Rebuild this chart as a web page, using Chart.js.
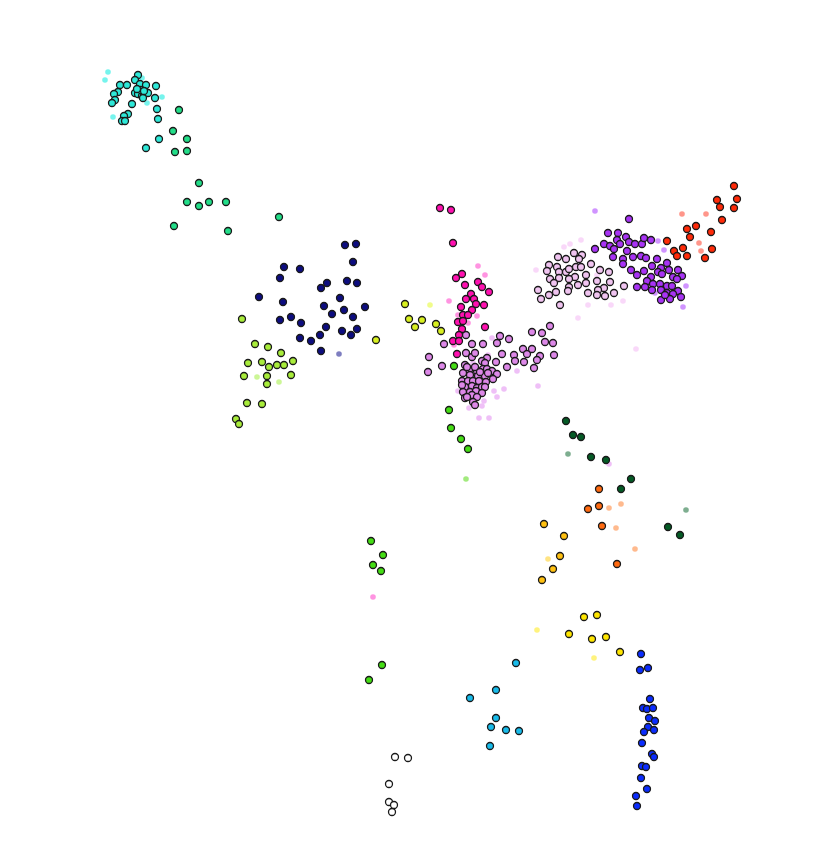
<!DOCTYPE html>
<html>
<head>
<meta charset="utf-8">
<script src="https://cdn.jsdelivr.net/npm/chart.js@4"></script>
<style>
  html, body { margin:0; padding:0; background:#fff; }
  #wrap { width:837px; height:864px; }
</style>
</head>
<body>
<div id="wrap"><canvas id="chart" width="837" height="864"></canvas></div>
<script>
// point positions (x right, y down)
var cyanPts = [[138,75],[135,80],[140,84],[146,85],[156,86],[120,85],[127,85],[118,92],[114,94],[115,100],[112,103],[135,93],[138,94],[142,96],[144,94],[148,93],[141,90],[143,98],[155,98],[132,104],[157,109],[158,119],[128,114],[124,116],[122,121],[125,121],[159,139],[146,148],[137,89],[144,91]];
var cyanFaint = [[108,72],[105,80],[162,97],[147,103],[113,117],[142,78]];
var springPts = [[179,110],[173,131],[187,139],[175,152],[187,151],[199,183],[187,202],[199,206],[209,202],[226,202],[174,226],[228,231],[279,217]];
var navyPts = [[345,245],[356,244],[353,262],[284,267],[300,269],[280,278],[347,281],[357,283],[327,283],[321,288],[259,297],[283,302],[340,298],[324,306],[344,310],[365,307],[332,314],[353,317],[280,320],[291,317],[301,323],[326,327],[320,335],[342,331],[357,329],[351,335],[300,338],[311,341],[321,351]];
var navyFaint = [[339,354]];
var limePts = [[242,319],[255,344],[268,347],[281,353],[248,363],[262,362],[269,367],[277,365],[284,365],[293,361],[244,376],[267,376],[267,384],[291,375],[247,403],[262,404],[236,419],[239,424]];
var limeFaint = [[257,377],[279,382]];
var chartreusePts = [[376,340],[405,304],[409,319],[415,327],[422,320],[436,324],[441,331]];
var chartreuseFaint = [[430,305]];
var magentaPts = [[440,208],[451,210],[453,243],[462,274],[456,278],[465,285],[478,282],[482,287],[489,292],[471,294],[466,299],[474,299],[476,304],[484,305],[461,307],[472,310],[463,315],[468,315],[458,322],[463,321],[485,327],[462,329],[459,335],[453,341],[459,341],[457,354]];
var magentaFaint = [[478,266],[485,275],[449,301],[477,316],[468,323],[458,315],[454,345],[373,597]];
var orchidPts = [[444,344],[472,344],[483,344],[497,343],[466,335],[500,336],[509,339],[532,332],[542,333],[550,326],[545,342],[553,343],
  [429,357],[442,366],[428,372],[466,353],[472,357],[475,353],[502,354],[514,355],[523,349],[527,354],[532,349],[540,356],[554,355],[537,360],[524,362],[515,361],[507,367],[496,362],[534,368],[487,358],[482,361],[485,363],[465,365],
  [469,370],[477,371],[483,369],[487,369],[492,371],[497,374],[463,373],[470,375],[478,376],[485,376],[493,379],[462,381],[468,381],[473,381],[479,381],[486,382],[465,387],[472,386],[477,388],[482,387],[485,387],[463,392],[470,392],[476,391],[482,393],[465,398],[472,395],[477,397],[473,402],[475,405],[467,397],[462,385],[488,373],[475,367],[467,367],[480,372]];
var orchidFaint = [[492,338],[517,371],[538,386],[504,389],[494,391],[497,397],[458,391],[484,401],[482,406],[469,408],[479,418],[489,418],[473,363],[463,372],[488,355],[609,464]];
var blushPts = [[558,257],[566,259],[574,253],[582,255],[579,259],[591,264],[549,265],[557,267],[547,271],[559,272],[566,272],[576,267],[581,267],[569,269],[600,270],[609,272],[586,275],[575,277],[550,279],[559,278],[569,279],[597,281],[610,282],[554,283],[578,285],[586,283],[569,287],[568,291],[604,288],[598,290],[614,293],[538,290],[556,292],[549,295],[588,293],[597,295],[605,296],[624,286],[541,299],[560,305]];
var blushFaint = [[564,247],[570,244],[581,240],[536,270],[597,275],[588,305],[611,305],[623,301],[578,318],[636,349]];
var purplePts = [[608,233],[618,233],[626,237],[617,240],[629,242],[635,244],[604,244],[610,246],[620,244],[595,249],[614,249],[627,251],[613,257],[623,259],[633,257],[623,264],[631,270],[637,275],[637,287],[629,219],[642,244],[644,238],[651,240],[641,256],[646,258],[657,259],[667,263],[652,266],[661,268],[669,270],[678,270],[644,271],[658,272],[662,274],[651,277],[673,277],[682,276],[677,279],[647,281],[653,284],[660,284],[645,287],[667,286],[672,286],[652,290],[661,290],[667,293],[678,291],[673,294],[681,297],[670,299],[661,300],[665,295]];
var purpleFaint = [[595,211],[658,241],[664,250],[686,286],[683,307],[655,293]];
var redPts = [[734,186],[717,200],[737,199],[720,207],[734,208],[722,220],[696,226],[687,229],[711,232],[690,237],[667,241],[683,248],[674,251],[677,256],[687,256],[712,249],[705,258]];
var redFaint = [[682,214],[706,214],[699,243],[701,251]];
var forestPts = [[566,421],[573,435],[581,437],[591,457],[606,460],[631,479],[621,489],[668,527],[680,535]];
var forestFaint = [[568,454],[686,510]];
var orangePts = [[599,489],[599,506],[588,509],[602,526],[617,564]];
var orangeFaint = [[609,508],[621,504],[616,528],[635,549]];
var goldPts = [[544,524],[564,536],[560,556],[553,569],[542,580]];
var goldFaint = [[548,559]];
var yellowPts = [[584,617],[597,615],[569,634],[592,639],[606,637],[620,652]];
var yellowFaint = [[537,630],[594,658]];
var greenPts = [[454,366],[449,410],[451,428],[461,439],[468,449],[371,541],[383,555],[373,565],[381,571],[382,665],[369,680]];
var greenFaint = [[466,479]];
var skyPts = [[516,663],[496,690],[470,698],[496,718],[491,727],[506,730],[519,731],[490,746]];
var bluePts = [[641,654],[640,670],[648,668],[650,699],[643,708],[647,709],[653,708],[649,718],[655,721],[648,727],[644,732],[654,730],[642,743],[652,754],[654,757],[642,766],[646,767],[641,778],[647,789],[636,796],[637,806]];
var whitePts = [[395,757],[408,758],[389,784],[389,802],[394,805],[392,812]];

function pts(arr) {
  return arr.map(function(p) { return { x:p[0], y:p[1] }; });
}
function solid(data, color) {
  return { data:pts(data), backgroundColor:color, borderColor:'#1a1a1a', borderWidth:1.3, pointRadius:3.5, order:0 };
}
function faint(data, color) {
  return { data:pts(data), backgroundColor:color, borderWidth:0, pointRadius:2.8, order:1 };
}

var datasets = [
  faint(cyanFaint, 'rgba(60,240,230,0.7)'),
  faint(navyFaint, 'rgba(40,40,150,0.6)'),
  faint(limeFaint, 'rgba(170,240,80,0.6)'),
  faint(chartreuseFaint, 'rgba(230,250,60,0.6)'),
  faint(magentaFaint, 'rgba(255,60,200,0.55)'),
  faint(orchidFaint, 'rgba(225,140,240,0.55)'),
  faint(blushFaint, 'rgba(245,190,245,0.6)'),
  faint(purpleFaint, 'rgba(170,60,255,0.55)'),
  faint(redFaint, 'rgba(255,80,60,0.6)'),
  faint(forestFaint, 'rgba(40,120,70,0.6)'),
  faint(orangeFaint, 'rgba(255,130,50,0.55)'),
  faint(goldFaint, 'rgba(255,210,50,0.6)'),
  faint(yellowFaint, 'rgba(255,235,40,0.6)'),
  faint(greenFaint, 'rgba(100,220,40,0.6)'),
  solid(cyanPts, '#2ee8d8'),
  solid(springPts, '#22dd88'),
  solid(navyPts, '#0d0d80'),
  solid(limePts, '#a8ec3a'),
  solid(chartreusePts, '#d8f020'),
  solid(magentaPts, '#ff10b0'),
  solid(orchidPts, '#dd88e8'),
  solid(blushPts, '#f0c4f0'),
  solid(purplePts, '#a833f5'),
  solid(redPts, '#ff2a08'),
  solid(forestPts, '#045a25'),
  solid(orangePts, '#ff6a10'),
  solid(goldPts, '#ffc010'),
  solid(yellowPts, '#ffe600'),
  solid(greenPts, '#44dd14'),
  solid(skyPts, '#18bbea'),
  solid(bluePts, '#0a2cff'),
  solid(whitePts, '#ffffff')
];

new Chart(document.getElementById('chart'), {
  type:'scatter',
  data:{ datasets:datasets },
  options:{
    responsive:false,
    animation:false,
    devicePixelRatio:1,
    layout:{ padding:0, autoPadding:false },
    plugins:{ legend:{ display:false }, tooltip:{ enabled:false } },
    scales:{
      x:{ type:'linear', min:0, max:837, display:false },
      y:{ type:'linear', min:0, max:864, reverse:true, display:false }
    }
  }
});
</script>
</body>
</html>
